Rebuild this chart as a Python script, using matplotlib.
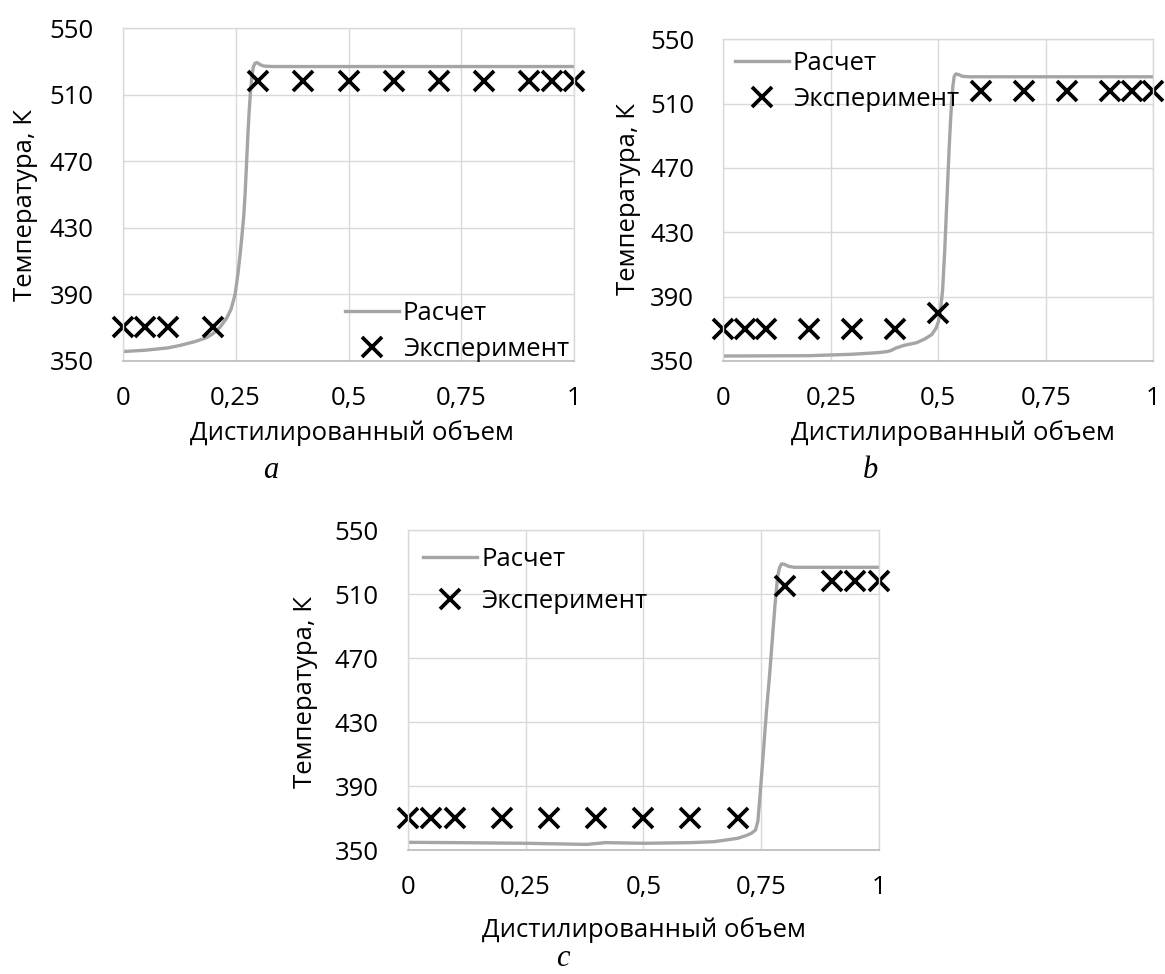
import numpy as np
import matplotlib.pyplot as plt

plt.rcParams['font.family'] = ['Open Sans', 'DejaVu Sans']

W, H = 1165, 974

# experiment points (same x for every panel)
x_exp = [0, 0.05, 0.1, 0.2, 0.3, 0.4, 0.5, 0.6, 0.7, 0.8, 0.9, 0.95, 1.0]
t_exp_a = [370, 370, 370, 370, 518, 518, 518, 518, 518, 518, 518, 518, 518]
t_exp_b = [370, 370, 370, 370, 370, 370, 380, 518, 518, 518, 518, 518, 518]
t_exp_c = [370, 370, 370, 370, 370, 370, 370, 370, 370, 515, 518, 518, 518]

# calculated curves
x_calc_a = [0, 0.05, 0.1, 0.127, 0.16, 0.185, 0.2, 0.215, 0.23, 0.24, 0.249, 0.255,
            0.26, 0.264, 0.268, 0.271, 0.274, 0.277, 0.28, 0.283, 0.286, 0.289, 0.293,
            0.298, 0.304, 0.312, 0.33, 1.0]
t_calc_a = [355.5, 356.3, 357.7, 359.2, 361.5, 363.8, 366.3, 370, 375.5, 381, 390, 402,
            414, 425, 437, 450, 467, 485, 500, 512, 521, 526.5, 529,
            529.3, 528.2, 527.3, 527, 527]

x_calc_b = [0, 0.2, 0.3, 0.36, 0.38, 0.39, 0.4, 0.42, 0.45, 0.47, 0.485, 0.495, 0.5,
            0.505, 0.51, 0.515, 0.52, 0.525, 0.528, 0.531, 0.534, 0.537, 0.541, 0.548,
            0.556, 0.57, 1.0]
t_calc_b = [353.1, 353.3, 354.2, 355.2, 355.8, 356.5, 357.9, 359.7, 361.4, 363.9, 366.5,
            370.5, 374.3, 381.5, 394, 419, 450, 481, 497, 511, 521, 527, 528.5, 528,
            527, 526.7, 526.7]

x_calc_c = [0, 0.1, 0.25, 0.38, 0.42, 0.5, 0.6, 0.65, 0.7, 0.72, 0.73, 0.738, 0.743,
            0.747, 0.751, 0.755, 0.761, 0.768, 0.774, 0.779, 0.782, 0.785, 0.789, 0.793,
            0.8, 0.808, 0.82, 1.0]
t_calc_c = [354.8, 354.6, 354.2, 353.5, 354.6, 354.2, 354.6, 355.2, 357.3, 359.2, 360.6,
            362.5, 368, 382, 397, 412.5, 436, 460, 483, 502, 512, 521, 526.5, 528.8,
            528.5, 527.3, 526.7, 526.7]

x_ticks = [0, 0.25, 0.5, 0.75, 1]
x_labels = ['0', '0,25', '0,5', '0,75', '1']
y_ticks = [350, 390, 430, 470, 510, 550]

fs = 18.5
grid_c = '#D9D9D9'
line_c = '#A5A5A5'


def px(x, y):
    return x / W, 1 - y / H


def make_panel(fig, box, xc, tc, te, leg_xy, leg_space, ylab_xy, xlab_xy, letter_xy, letter):
    l, t, r, b = box
    ax = fig.add_axes([l / W, 1 - b / H, (r - l) / W, (b - t) / H])
    ax.plot(xc, tc, color=line_c, lw=2.4, label='Расчет', solid_joinstyle='round')
    ax.plot(x_exp, te, ls='none', marker='x', ms=14, mew=2.7, color='black',
            label='Эксперимент', clip_on=False)
    ax.set_xlim(0, 1)
    ax.set_ylim(350, 550)
    ax.set_xticks(x_ticks)
    ax.set_xticklabels(x_labels)
    ax.set_yticks(y_ticks)
    ax.grid(True, color=grid_c, lw=1.0)
    ax.set_axisbelow(True)
    for s in ['left', 'top', 'right']:
        ax.spines[s].set_color(grid_c)
        ax.spines[s].set_linewidth(1.0)
    ax.spines['bottom'].set_color('#BFBFBF')
    ax.spines['bottom'].set_linewidth(1.3)
    ax.tick_params(axis='both', length=0, labelsize=fs)
    ax.tick_params(axis='y', pad=21)
    ax.tick_params(axis='x', pad=18)
    ax.legend(loc='upper left', bbox_to_anchor=px(*leg_xy), bbox_transform=fig.transFigure,
              frameon=False, fontsize=fs, borderpad=0, borderaxespad=0,
              handlelength=2.1, handletextpad=0.15, labelspacing=leg_space)
    fig.text(*px(*ylab_xy), 'Температура, К', rotation=90, ha='center', va='center', fontsize=fs)
    fig.text(*px(*xlab_xy), 'Дистилированный объем', ha='center', va='center', fontsize=fs)
    fig.text(*px(*letter_xy), letter, ha='center', va='center', fontsize=22,
             family='Liberation Serif', style='italic')
    return ax


fig = plt.figure(figsize=(W / 100, H / 100), dpi=100)

make_panel(fig, (122.7, 28.3, 574.3, 360.7), x_calc_a, t_calc_a, t_exp_a,
           (345, 301), 0.42, (25.5, 205), (352, 433), (270.7, 470), 'a')
make_panel(fig, (723.3, 39.3, 1153.3, 361), x_calc_b, t_calc_b, t_exp_b,
           (735, 51), 0.42, (628.7, 199), (953, 433), (870, 470), 'b')
make_panel(fig, (407.7, 530, 879, 850), x_calc_c, t_calc_c, t_exp_c,
           (423.3, 547), 0.66, (305.8, 692), (644, 930), (562.5, 959), 'c')

fig.savefig('out.png', dpi=100)
